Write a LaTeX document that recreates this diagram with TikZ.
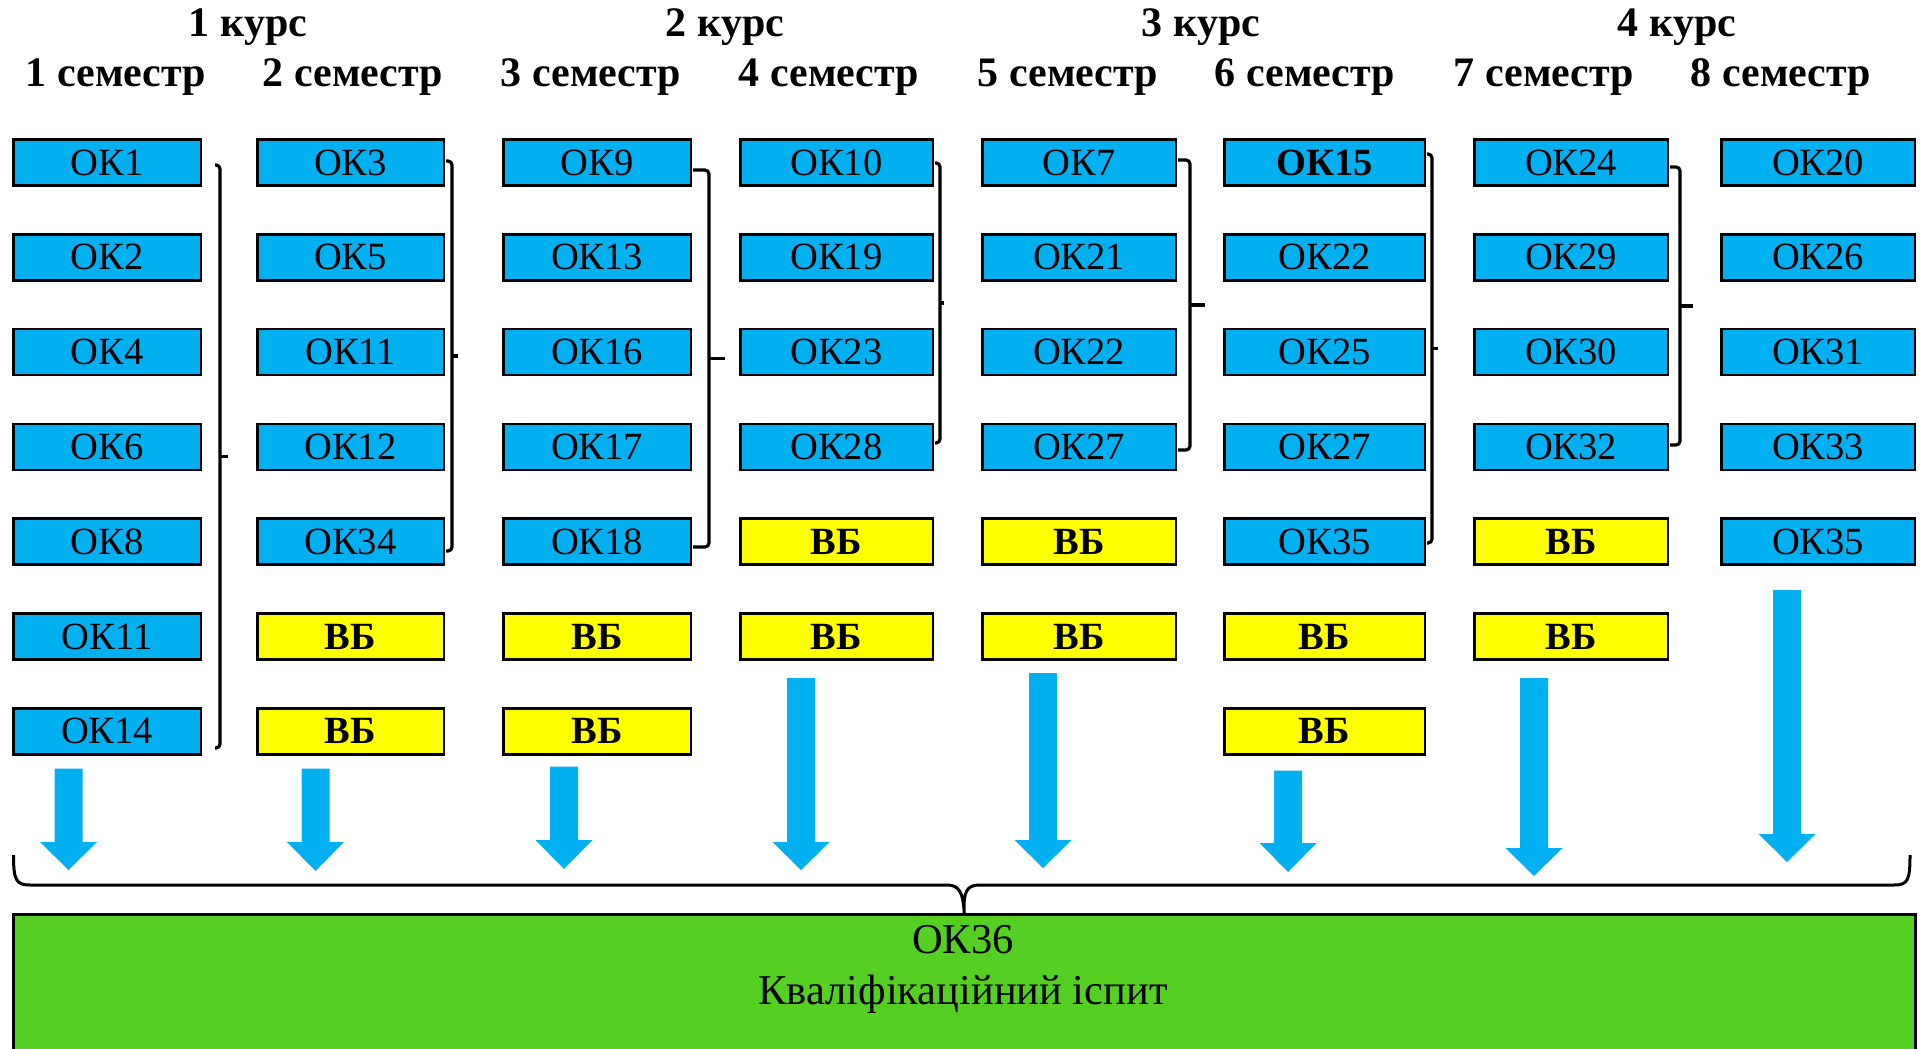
\documentclass[tikz,border=0pt]{standalone}
\usepackage{fontspec}
\setmainfont{Liberation Serif}
\definecolor{okblue}{HTML}{00B0F0}
\definecolor{vbyellow}{HTML}{FFFF00}
\definecolor{exgreen}{HTML}{55D022}
\tikzset{
 okbox/.style={draw=black, line width=2.5pt, fill=okblue, minimum height=46pt, inner sep=0pt, font=\fontsize{38.5}{40}\selectfont},
 okbold/.style={okbox, font=\fontsize{38.5}{40}\selectfont\bfseries},
 vbbox/.style={okbox, fill=vbyellow, font=\fontsize{38.5}{40}\selectfont\bfseries},
 hdr/.style={font=\fontsize{42}{48}\selectfont\bfseries, anchor=base, inner sep=0pt},
 brk/.style={draw=black, line width=3.2pt, rounded corners=4pt},
 tick/.style={draw=black, line width=3.2pt},
 barrow/.style={fill=okblue, draw=none},
}
\newcommand\blockarr[4]{\fill[barrow] (#1-14,#2) -- (#1+14,#2) -- (#1+14,#3) -- (#1+28.5,#3) -- (#1,#4) -- (#1-28.5,#3) -- (#1-14,#3) -- cycle;}
\newcommand\brkt[6]{\draw[brk] (#1,#2) -- (#3,#2) -- (#3,#4) -- (#1,#4); \draw[tick] (#3,#5) -- (#6,#5);}
\begin{document}
\begin{tikzpicture}[x=1pt,y=-1pt]
\useasboundingbox (0,0) rectangle (1922,1049);
% headers
\node[hdr] (k1) at (248,36.7) {1 курс};
\node[hdr] (k2) at (725,36.7) {2 курс};
\node[hdr] (k3) at (1201,36.7) {3 курс};
\node[hdr] (k4) at (1677,36.7) {4 курс};
\node[hdr] (s1) at (116,86) {1 семестр};
\node[hdr] (s2) at (353,86) {2 семестр};
\node[hdr] (s3) at (591,86) {3 семестр};
\node[hdr] (s4) at (829,86) {4 семестр};
\node[hdr] (s5) at (1068,86) {5 семестр};
\node[hdr] (s6) at (1305,86) {6 семестр};
\node[hdr] (s7) at (1544,86) {7 семестр};
\node[hdr] (s8) at (1781,86) {8 семестр};
% columns
\foreach \st/\lab [count=\i from 0] in {okbox/ОК1,okbox/ОК2,okbox/ОК4,okbox/ОК6,okbox/ОК8,okbox/ОК11,okbox/ОК14}
  \node[\st, minimum width=187.5pt] (a\i) at (107,{162.5+94.8*\i}) {\lab};
\foreach \st/\lab [count=\i from 0] in {okbox/ОК3,okbox/ОК5,okbox/ОК11,okbox/ОК12,okbox/ОК34,vbbox/ВБ,vbbox/ВБ}
  \node[\st, minimum width=186.5pt] (b\i) at (350.5,{162.5+94.8*\i}) {\lab};
\foreach \st/\lab [count=\i from 0] in {okbox/ОК9,okbox/ОК13,okbox/ОК16,okbox/ОК17,okbox/ОК18,vbbox/ВБ,vbbox/ВБ}
  \node[\st, minimum width=187.5pt] (c\i) at (597,{162.5+94.8*\i}) {\lab};
\foreach \st/\lab [count=\i from 0] in {okbox/ОК10,okbox/ОК19,okbox/ОК23,okbox/ОК28,vbbox/ВБ,vbbox/ВБ}
  \node[\st, minimum width=192.5pt] (d\i) at (836.5,{162.5+94.8*\i}) {\lab};
\foreach \st/\lab [count=\i from 0] in {okbox/ОК7,okbox/ОК21,okbox/ОК22,okbox/ОК27,vbbox/ВБ,vbbox/ВБ}
  \node[\st, minimum width=193.5pt] (e\i) at (1079,{162.5+94.8*\i}) {\lab};
\foreach \st/\lab [count=\i from 0] in {okbold/ОК15,okbox/ОК22,okbox/ОК25,okbox/ОК27,okbox/ОК35,vbbox/ВБ,vbbox/ВБ}
  \node[\st, minimum width=200.5pt] (f\i) at (1324.5,{162.5+94.8*\i}) {\lab};
\foreach \st/\lab [count=\i from 0] in {okbox/ОК24,okbox/ОК29,okbox/ОК30,okbox/ОК32,vbbox/ВБ,vbbox/ВБ}
  \node[\st, minimum width=193.5pt] (g\i) at (1571,{162.5+94.8*\i}) {\lab};
\foreach \st/\lab [count=\i from 0] in {okbox/ОК20,okbox/ОК26,okbox/ОК31,okbox/ОК33,okbox/ОК35}
  \node[\st, minimum width=193.5pt] (h\i) at (1818,{162.5+94.8*\i}) {\lab};
% brackets
\brkt{215}{165}{220}{748}{456.5}{228}
\brkt{446}{161}{452}{551}{356}{458}
\brkt{693}{170}{709}{547}{358.5}{725}
\brkt{935}{163}{940}{443}{303}{944}
\brkt{1178}{160}{1190}{450}{305}{1205}
\brkt{1427}{154}{1432}{543}{348.5}{1438}
\brkt{1670}{167}{1680}{445}{306}{1693}
% arrows
\blockarr{68.5}{768.5}{842}{870}
\blockarr{315.5}{768.5}{842}{871}
\blockarr{564}{766.5}{840}{869}
\blockarr{801}{678}{842}{870}
\blockarr{1043}{673}{840}{868}
\blockarr{1288}{770.5}{843}{872}
\blockarr{1534}{678}{848}{876}
\blockarr{1787}{590}{834}{862}
% exam box
\node[draw=black, line width=2.5pt, fill=exgreen, anchor=north west, minimum width=1902pt, minimum height=160pt, inner sep=0pt] (exam) at (12,913) {};
\node[font=\fontsize{42.5}{48}\selectfont, anchor=base, inner sep=0pt] (t1) at (963,953) {ОК36};
\node[font=\fontsize{42.5}{48}\selectfont, anchor=base, inner sep=0pt] (t2) at (963,1004) {Кваліфікаційний іспит};
% bottom brace
\draw[line width=3pt] (13.5,855) .. controls (13.5,880) and (16,885) .. (30,885) -- (947,885) .. controls (959,885) and (963,892) .. (exam.north)
  (exam.north) .. controls (963,892) and (967,885) .. (979,885) -- (1894,885) .. controls (1908,885) and (1910,880) .. (1910,855);
\end{tikzpicture}
\end{document}
